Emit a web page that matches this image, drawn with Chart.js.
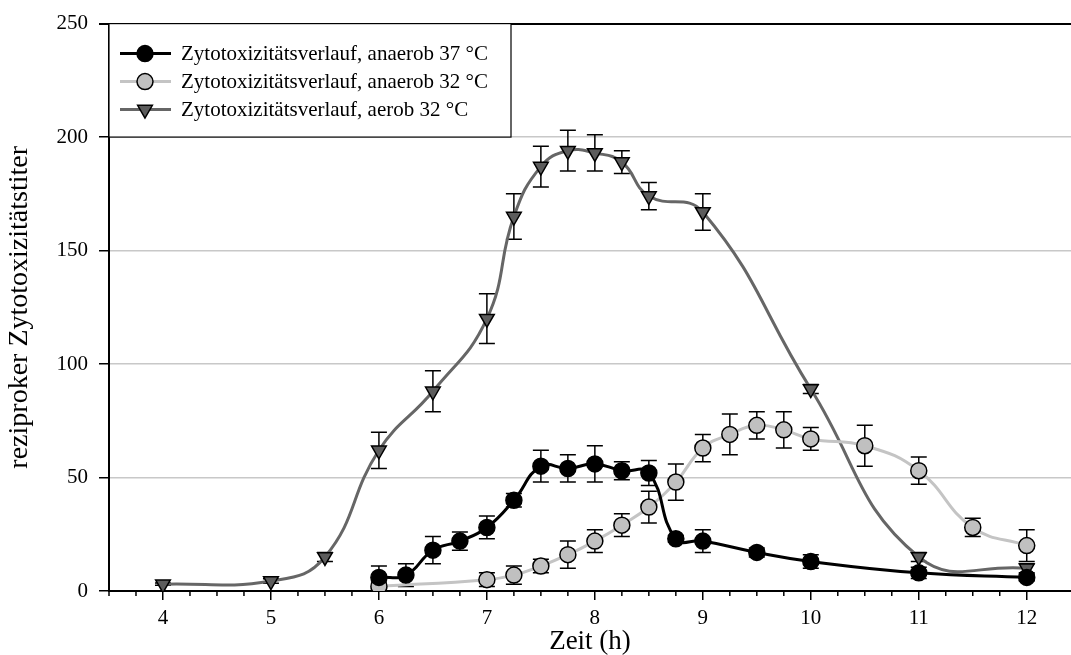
<!DOCTYPE html>
<html>
<head>
<meta charset="utf-8">
<script src="https://cdn.jsdelivr.net/npm/chart.js@4"></script>
<style>
  html, body { margin: 0; padding: 0; background: #fff; overflow: hidden; }
  canvas { display: block; }
</style>
</head>
<body>
<canvas id="chart" width="1071" height="655"></canvas>
<script>
// anaerob 37 °C
const timeAn37 = [6, 6.25, 6.5, 6.75, 7, 7.25, 7.5, 7.75, 8, 8.25, 8.5, 8.75, 9, 9.5, 10, 11, 12];
const titerAn37 = [6, 7, 18, 22, 28, 40, 55, 54, 56, 53, 52, 23, 22, 17, 13, 8, 6];
const errAn37 = [5, 5, 6, 4, 5, 3, 7, 6, 8, 4, 5.5, 1.5, 5, 2, 3, 2.5, 1.5];

// anaerob 32 °C
const timeAn32 = [6, 7, 7.25, 7.5, 7.75, 8, 8.25, 8.5, 8.75, 9, 9.25, 9.5, 9.75, 10, 10.5, 11, 11.5, 12];
const titerAn32 = [2, 5, 7, 11, 16, 22, 29, 37, 48, 63, 69, 73, 71, 67, 64, 53, 28, 20];
const errAn32 = [2, 3, 4, 3, 6, 5, 5, 7, 8, 6, 9, 6, 8, 5, 9, 6, 4, 7];

// aerob 32 °C
const timeAer = [4, 5, 5.5, 6, 6.5, 7, 7.25, 7.5, 7.75, 8, 8.25, 8.5, 9, 10, 11, 12];
const titerAer = [3, 4.4, 15, 62, 88, 120, 165, 187, 194, 193, 189, 174, 167, 89, 15, 10];
const errAer = [0.5, 1, 2, 8, 9, 11, 10, 9, 9, 8, 5, 6, 8, 2, 2, 2];

const seriesLabels = [
  'Zytotoxizitätsverlauf, anaerob 37 °C',
  'Zytotoxizitätsverlauf, anaerob 32 °C',
  'Zytotoxizitätsverlauf, aerob 32 °C'
];

const FONT = '"Liberation Serif", "Times New Roman", serif';

const toPoints = (xs, ys) => xs.map((x, i) => ({ x: x, y: ys[i] }));

// vertical error bars with caps, drawn under the lines
const errorBars = {
  id: 'errorBars',
  beforeDatasetsDraw(chart) {
    const { ctx, scales: { x, y } } = chart;
    ctx.save();
    ctx.strokeStyle = '#000';
    ctx.lineWidth = 1.5;
    chart.data.datasets.forEach(ds => {
      ds.data.forEach((p, i) => {
        const e = ds.errors[i];
        const px = x.getPixelForValue(p.x);
        const top = y.getPixelForValue(p.y + e);
        const bot = y.getPixelForValue(p.y - e);
        ctx.beginPath();
        ctx.moveTo(px, top); ctx.lineTo(px, bot);
        ctx.moveTo(px - 8, top); ctx.lineTo(px + 8, top);
        ctx.moveTo(px - 8, bot); ctx.lineTo(px + 8, bot);
        ctx.stroke();
      });
    });
    ctx.restore();
  }
};

// short minor ticks on the x axis
const minorTicks = {
  id: 'minorTicks',
  afterDraw(chart) {
    const { ctx, scales: { x } } = chart;
    ctx.save();
    ctx.strokeStyle = '#000';
    ctx.lineWidth = 1.5;
    x.ticks.forEach(t => {
      if (Number.isInteger(t.value) || t.value > 12.3) return;
      const px = x.getPixelForValue(t.value);
      ctx.beginPath();
      ctx.moveTo(px, x.top);
      ctx.lineTo(px, x.top + 5);
      ctx.stroke();
    });
    ctx.restore();
  }
};

// boxed legend in the upper left corner of the plot
const boxLegend = {
  id: 'boxLegend',
  afterDraw(chart) {
    const { ctx, chartArea, scales: { y } } = chart;
    const left = chartArea.left;
    const top = chartArea.top;
    const bottom = y.getPixelForValue(200);
    ctx.save();
    ctx.fillStyle = '#fff';
    ctx.fillRect(left, top, 402, bottom - top);
    ctx.strokeStyle = '#000';
    ctx.lineWidth = 1.2;
    ctx.strokeRect(left, top, 402, bottom - top);
    chart.data.datasets.forEach((ds, i) => {
      const cy = top + 30 + i * 28;
      ctx.strokeStyle = ds.borderColor;
      ctx.lineWidth = 3;
      ctx.beginPath();
      ctx.moveTo(left + 11, cy);
      ctx.lineTo(left + 62, cy);
      ctx.stroke();
      ctx.fillStyle = ds.pointBackgroundColor;
      ctx.strokeStyle = '#000';
      ctx.lineWidth = 1.5;
      Chart.helpers.drawPoint(ctx, {
        pointStyle: ds.pointStyle,
        radius: ds.pointRadius,
        rotation: ds.pointRotation || 0,
        borderWidth: 1.5
      }, left + 36, cy);
      ctx.fillStyle = '#000';
      ctx.font = '21px ' + FONT;
      ctx.textBaseline = 'middle';
      ctx.fillText(ds.label, left + 72, cy + 1);
    });
    ctx.restore();
  }
};

new Chart(document.getElementById('chart'), {
  type: 'line',
  data: {
    datasets: [
      {
        label: seriesLabels[0],
        data: toPoints(timeAn37, titerAn37),
        errors: errAn37,
        borderColor: '#000',
        borderWidth: 3,
        pointStyle: 'circle',
        pointRadius: 8,
        pointBackgroundColor: '#000',
        pointBorderColor: '#000',
        pointBorderWidth: 1.5,
        tension: 0.45
      },
      {
        label: seriesLabels[1],
        data: toPoints(timeAn32, titerAn32),
        errors: errAn32,
        borderColor: '#c4c4c4',
        borderWidth: 3,
        pointStyle: 'circle',
        pointRadius: 8,
        pointBackgroundColor: '#c0c0c0',
        pointBorderColor: '#000',
        pointBorderWidth: 1.5,
        tension: 0.45
      },
      {
        label: seriesLabels[2],
        data: toPoints(timeAer, titerAer),
        errors: errAer,
        borderColor: '#666',
        borderWidth: 3,
        pointStyle: 'triangle',
        pointRotation: 180,
        pointRadius: 8.5,
        pointBackgroundColor: '#5c5c5c',
        pointBorderColor: '#000',
        pointBorderWidth: 1.5,
        tension: 0.45
      }
    ]
  },
  options: {
    responsive: false,
    animation: false,
    layout: { autoPadding: false, padding: { top: 20, right: 0, left: 0, bottom: 0 } },
    plugins: {
      legend: { display: false },
      tooltip: { enabled: false }
    },
    scales: {
      x: {
        type: 'linear',
        min: 3.5,
        max: 12.41,
        afterFit: s => { s.height = 64; s.paddingRight = 0; s.paddingLeft = 0; },
        border: { color: '#000', width: 2 },
        grid: {
          drawOnChartArea: false,
          tickLength: 9,
          lineWidth: 1.5,
          tickColor: ctx => Number.isInteger(ctx.tick.value) ? '#000' : 'rgba(0,0,0,0)'
        },
        ticks: {
          stepSize: 0.25,
          autoSkip: false,
          maxRotation: 0,
          padding: 6,
          color: '#000',
          font: { family: FONT, size: 21 },
          callback: v => Number.isInteger(v) ? v : ''
        },
        title: {
          display: true,
          text: 'Zeit (h)',
          color: '#000',
          font: { family: FONT, size: 27, lineHeight: 1.0 },
          padding: { top: 0, bottom: 0 }
        }
      },
      y: {
        min: 0,
        max: 250,
        afterFit: s => { s.width = 109; },
        border: { color: '#000', width: 2 },
        grid: {
          tickLength: 10,
          lineWidth: ctx => ctx.tick.value === 250 ? 2 : 1.5,
          color: ctx => ctx.tick.value === 250 ? '#000' : '#c8c8c8',
          tickColor: '#000'
        },
        ticks: {
          stepSize: 50,
          padding: 11,
          color: '#000',
          font: { family: FONT, size: 21 }
        },
        title: {
          display: true,
          text: 'reziproker Zytotoxizitätstiter',
          color: '#000',
          font: { family: FONT, size: 28, lineHeight: 1.0 },
          padding: { top: 6, bottom: 0 }
        }
      }
    }
  },
  plugins: [errorBars, minorTicks, boxLegend]
});
</script>
</body>
</html>
